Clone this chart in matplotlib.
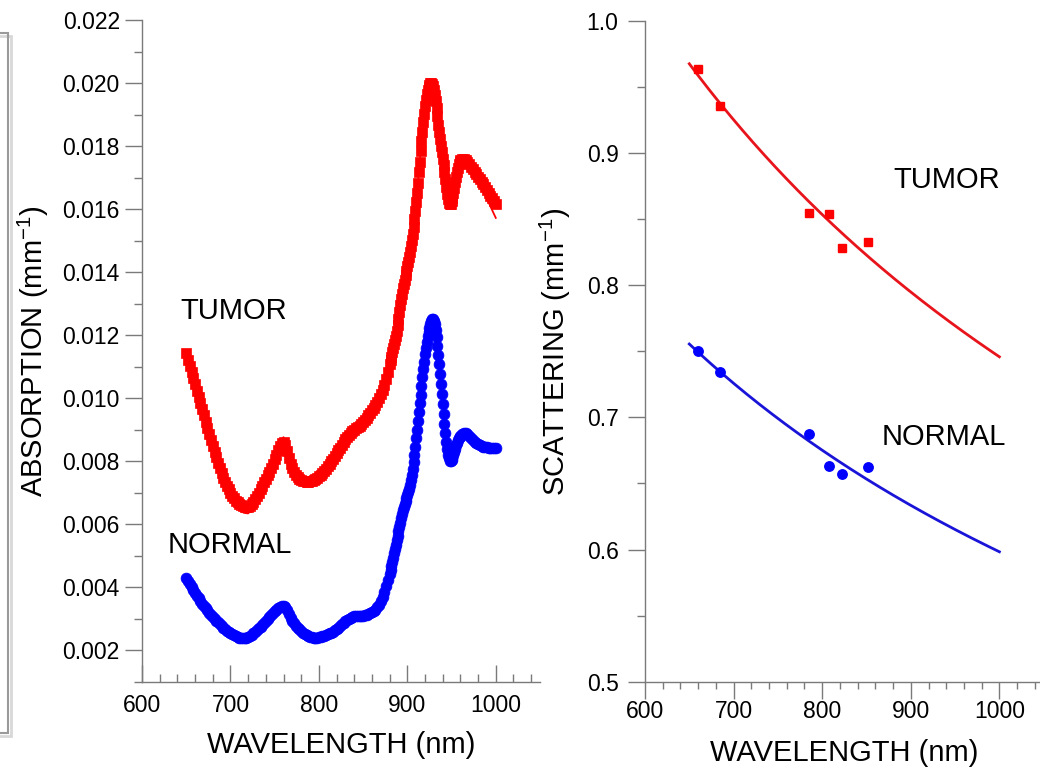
import numpy as np
import matplotlib
matplotlib.use("Agg")
import matplotlib.pyplot as plt
from matplotlib.ticker import MultipleLocator, FormatStrFormatter
from matplotlib.patches import Rectangle

plt.rcParams['font.family'] = ['Liberation Sans', 'DejaVu Sans']
plt.rcParams['mathtext.fontset'] = 'custom'
plt.rcParams['mathtext.rm'] = 'Liberation Sans'
plt.rcParams['mathtext.it'] = 'Liberation Sans:italic'

# ---------------- data: absorption spectra (values in 1e-3 mm^-1) ----------------
ABS_UNIT = 1e-3
wl_abs = np.concatenate([np.arange(650, 881, 2), np.arange(881, 961, 1), np.arange(962, 1001, 2)])

tumor_abs = [
    11.42, 11.22, 11.03, 10.83, 10.63, 10.44, 10.24, 10.04, 9.84, 9.64,
    9.45, 9.25, 9.05, 8.85, 8.66, 8.48, 8.30, 8.12, 7.95, 7.79,
    7.63, 7.48, 7.35, 7.22, 7.10, 6.99, 6.90, 6.82, 6.75, 6.69,
    6.64, 6.60, 6.57, 6.55, 6.55, 6.56, 6.59, 6.64, 6.71, 6.80,
    6.90, 7.00, 7.11, 7.22, 7.33, 7.44, 7.55, 7.66, 7.78, 7.92,
    8.06, 8.21, 8.36, 8.49, 8.58, 8.60, 8.50, 8.32, 8.11, 7.92,
    7.77, 7.65, 7.56, 7.49, 7.44, 7.40, 7.38, 7.36, 7.35, 7.35,
    7.36, 7.38, 7.41, 7.44, 7.48, 7.52, 7.57, 7.63, 7.69, 7.76,
    7.84, 7.92, 8.00, 8.08, 8.16, 8.25, 8.34, 8.43, 8.52, 8.61,
    8.69, 8.77, 8.84, 8.90, 8.95, 9.00, 9.04, 9.08, 9.12, 9.17,
    9.23, 9.30, 9.38, 9.46, 9.54, 9.62, 9.70, 9.79, 9.89, 10.00,
    10.12, 10.26, 10.42, 10.60, 10.82, 11.08,
    11.20, 11.32, 11.45, 11.58, 11.71, 11.84, 11.98, 12.14, 12.32, 12.52,
    12.74, 12.96, 13.15, 13.32, 13.48, 13.62, 13.76, 13.90, 14.04, 14.18,
    14.32, 14.48, 14.65, 14.83, 15.02, 15.22, 15.44, 15.68, 15.94, 16.22,
    16.52, 16.84, 17.17, 17.50, 17.83, 18.15, 18.46, 18.75, 19.02, 19.26,
    19.47, 19.64, 19.78, 19.88, 19.95, 19.99, 20.00, 19.97, 19.90, 19.78,
    19.62, 19.43, 19.21, 18.95, 18.68, 18.44, 18.22, 18.01, 17.80, 17.60,
    17.39, 17.17, 16.94, 16.71, 16.49, 16.31, 16.20, 16.16, 16.17, 16.24,
    16.36, 16.51, 16.68, 16.86, 17.03, 17.18, 17.31, 17.42, 17.50, 17.55,
    17.58, 17.60, 17.57, 17.50, 17.42, 17.34, 17.26, 17.18, 17.10, 17.02,
    16.94, 16.86, 16.78, 16.70, 16.61, 16.52, 16.43, 16.34, 16.25, 16.17,
]

normal_abs = [
    4.28, 4.18, 4.09, 4.00, 3.91, 3.82, 3.73, 3.65, 3.56, 3.48,
    3.41, 3.33, 3.26, 3.19, 3.12, 3.06, 3.00, 2.94, 2.88, 2.82,
    2.77, 2.72, 2.67, 2.62, 2.58, 2.54, 2.50, 2.47, 2.44, 2.42,
    2.40, 2.39, 2.38, 2.38, 2.39, 2.41, 2.44, 2.48, 2.53, 2.58,
    2.63, 2.69, 2.75, 2.81, 2.87, 2.93, 2.99, 3.05, 3.11, 3.17,
    3.23, 3.29, 3.34, 3.38, 3.40, 3.40, 3.36, 3.27, 3.15, 3.03,
    2.93, 2.85, 2.78, 2.72, 2.66, 2.61, 2.56, 2.52, 2.48, 2.45,
    2.43, 2.41, 2.40, 2.40, 2.40, 2.41, 2.42, 2.44, 2.46, 2.48,
    2.50, 2.53, 2.56, 2.59, 2.63, 2.67, 2.72, 2.77, 2.82, 2.87,
    2.92, 2.96, 3.00, 3.03, 3.05, 3.07, 3.08, 3.08, 3.08, 3.09,
    3.10, 3.11, 3.13, 3.15, 3.17, 3.20, 3.24, 3.29, 3.36, 3.45,
    3.56, 3.70, 3.86, 4.03, 4.22, 4.42,
    4.54, 4.66, 4.79, 4.93, 5.07, 5.21, 5.35, 5.49, 5.63, 5.77,
    5.91, 6.05, 6.19, 6.32, 6.44, 6.55, 6.65, 6.74, 6.83, 6.92,
    7.02, 7.13, 7.25, 7.39, 7.56, 7.76, 7.98, 8.21, 8.46, 8.72,
    8.99, 9.27, 9.55, 9.83, 10.11, 10.39, 10.66, 10.92, 11.16, 11.39,
    11.60, 11.79, 11.96, 12.11, 12.24, 12.35, 12.44, 12.50, 12.51, 12.46,
    12.34, 12.16, 11.93, 11.66, 11.37, 11.07, 10.76, 10.45, 10.13, 9.81,
    9.49, 9.18, 8.89, 8.62, 8.39, 8.21, 8.09, 8.02, 8.01, 8.04,
    8.11, 8.20, 8.30, 8.40, 8.50, 8.58, 8.66, 8.72, 8.77, 8.81,
    8.86, 8.88, 8.88, 8.85, 8.80, 8.74, 8.68, 8.62, 8.57, 8.53,
    8.50, 8.48, 8.46, 8.45, 8.44, 8.43, 8.43, 8.43, 8.43, 8.43,
]

# model fits of the absorption spectra
wl_fit = np.concatenate([np.arange(650, 881, 5), np.arange(882, 961, 2), np.arange(965, 1001, 5)])

tumor_fit = [
    11.42, 10.93, 10.44, 9.94, 9.45, 8.95, 8.46, 8.00, 7.58, 7.20,
    6.90, 6.66, 6.48, 6.36, 6.34, 6.48, 6.76, 7.10, 7.45, 7.80,
    8.15, 8.55, 8.76, 8.28, 7.80, 7.52, 7.38, 7.33, 7.34, 7.42,
    7.52, 7.66, 7.84, 8.04, 8.25, 8.47, 8.69, 8.87, 9.00, 9.10,
    9.22, 9.42, 9.62, 9.84, 10.12, 10.50, 11.08,
    11.32, 11.58, 11.84, 12.14, 12.52, 12.96, 13.32, 13.62, 13.90, 14.18,
    14.48, 14.83, 15.22, 15.68, 16.22, 16.84, 17.50, 18.15, 18.75, 19.26,
    19.64, 19.88, 19.99, 19.97, 19.78, 19.43, 18.95, 18.44, 18.01, 17.60,
    17.17, 16.71, 16.31, 16.16, 16.24, 16.51, 16.86, 17.18, 17.42, 17.55,
    17.55, 17.38, 17.15, 16.90, 16.62, 16.33, 16.02, 15.72,
]

normal_fit = [
    4.28, 4.05, 3.82, 3.60, 3.41, 3.22, 3.06, 2.91, 2.77, 2.65,
    2.54, 2.46, 2.40, 2.38, 2.41, 2.50, 2.63, 2.78, 2.93, 3.08,
    3.23, 3.36, 3.40, 3.21, 2.93, 2.75, 2.61, 2.50, 2.43, 2.40,
    2.41, 2.45, 2.50, 2.57, 2.67, 2.79, 2.92, 3.02, 3.07, 3.08,
    3.10, 3.14, 3.20, 3.32, 3.56, 3.94, 4.42,
    4.66, 4.93, 5.21, 5.49, 5.77, 6.05, 6.32, 6.55, 6.74, 6.92,
    7.13, 7.39, 7.76, 8.21, 8.72, 9.27, 9.83, 10.39, 10.92, 11.39,
    11.79, 12.11, 12.35, 12.50, 12.46, 12.16, 11.66, 11.07, 10.45, 9.81,
    9.18, 8.62, 8.21, 8.02, 8.04, 8.20, 8.40, 8.58, 8.72, 8.81,
    8.88, 8.80, 8.65, 8.53, 8.47, 8.44, 8.43, 8.43,
]

# ---------------- data: reduced scattering ----------------
wl_scat = [660, 685, 785, 808, 822, 852]
tumor_scat = [0.964, 0.9355, 0.855, 0.854, 0.828, 0.833]
normal_scat = [0.7506, 0.7345, 0.6875, 0.6632, 0.6572, 0.6625]
fit_range = [650, 1000]

xticks = [600, 700, 800, 900, 1000]
abs_ticks = [0.002, 0.004, 0.006, 0.008, 0.010, 0.012, 0.014, 0.016, 0.018, 0.020, 0.022]
scat_ticks = [0.5, 0.6, 0.7, 0.8, 0.9, 1.0]

RED = '#ff0000'
BLUE = '#0000ff'
RED_LINE = '#e8141c'
BLUE_LINE = '#1a14d8'
SPINE = '#7a7a7a'
TICK_FS = 16.5
LAB_FS = 21

fig = plt.figure(figsize=(10.4, 7.75), dpi=100)
W, H = 1040.0, 775.0

def px_axes(x0, x1, ytop, ybot):
    return fig.add_axes([x0 / W, 1 - ybot / H, (x1 - x0) / W, (ybot - ytop) / H])

# left decoration: edge of a neighbouring frame
fig.add_artist(Rectangle((-20 / W, 1 - 733 / H), 28 / W, 700 / H, transform=fig.transFigure,
                         fill=False, edgecolor='#9a9a9a', lw=1.5))
fig.add_artist(Rectangle((-20 / W, 1 - 736 / H), 31 / W, 700 / H, transform=fig.transFigure,
                         fill=False, edgecolor='#d8d8d8', lw=2.0, zorder=-1))

# ---------------- left panel ----------------
ax1 = px_axes(142, 540, 20, 681.7)
ta = np.array(tumor_abs) * ABS_UNIT
na = np.array(normal_abs) * ABS_UNIT
ax1.plot(wl_abs, ta, ls='none', marker='s', ms=7.0, mfc=RED, mec=RED, mew=0.5, zorder=3)
ax1.plot(wl_fit, np.array(tumor_fit) * ABS_UNIT, color=RED, lw=1.3, zorder=4)
ax1.plot(wl_abs, na, ls='none', marker='o', ms=7.8, mfc=BLUE, mec=BLUE, mew=0.5, zorder=3)
ax1.plot(wl_fit, np.array(normal_fit) * ABS_UNIT, color=BLUE, lw=1.3, zorder=4)

ax1.set_xlim(600, 1050)
ax1.set_ylim(0.001, 0.022)
ax1.set_xticks(xticks)
ax1.xaxis.set_minor_locator(MultipleLocator(20))
ax1.set_yticks(abs_ticks)
ax1.yaxis.set_minor_locator(MultipleLocator(0.001))
ax1.yaxis.set_major_formatter(FormatStrFormatter('%.3f'))
ax1.tick_params(axis='x', which='major', direction='in', length=12, width=1, color=SPINE,
                labelsize=TICK_FS, pad=9)
ax1.tick_params(axis='x', which='minor', direction='in', length=6, width=1, color=SPINE)
ax1.tick_params(axis='y', which='major', direction='out', length=12, width=1, color=SPINE,
                labelsize=TICK_FS, pad=4)
ax1.tick_params(axis='y', which='minor', direction='out', length=6, width=1, color=SPINE)
ax1.set_xlabel('WAVELENGTH (nm)', fontsize=LAB_FS, labelpad=10)
ax1.set_ylabel('ABSORPTION (mm$^{-1}$)', fontsize=LAB_FS, labelpad=8)
ax1.text(643, 0.01275, 'TUMOR', fontsize=LAB_FS, ha='left', va='center')
ax1.text(629, 0.00534, 'NORMAL', fontsize=LAB_FS, ha='left', va='center')

# ---------------- right panel ----------------
ax2 = px_axes(645, 1043.7, 21, 681.7)
lw_s = np.log(np.array(wl_scat, dtype=float))
xf = np.linspace(fit_range[0], fit_range[1], 200)
for vals, col, lcol, mk, ms in [(tumor_scat, RED, RED_LINE, 's', 6.3),
                                (normal_scat, BLUE, BLUE_LINE, 'o', 6.8)]:
    b, a = np.polyfit(lw_s, np.log(vals), 1)
    ax2.plot(xf, np.exp(a + b * np.log(xf)), color=lcol, lw=2.0, zorder=2)
    ax2.plot(wl_scat, vals, ls='none', marker=mk, ms=ms, mfc=col, mec=col, zorder=3)

ax2.set_xlim(600, 1050)
ax2.set_ylim(0.5, 1.0)
ax2.set_xticks(xticks)
ax2.xaxis.set_minor_locator(MultipleLocator(20))
ax2.set_yticks(scat_ticks)
ax2.yaxis.set_minor_locator(MultipleLocator(0.05))
ax2.yaxis.set_major_formatter(FormatStrFormatter('%.1f'))
ax2.tick_params(axis='x', which='major', direction='out', length=12, width=1, color=SPINE,
                labelsize=TICK_FS, pad=1)
ax2.tick_params(axis='x', which='minor', direction='out', length=5, width=1, color=SPINE)
ax2.tick_params(axis='y', which='major', direction='out', length=12, width=1, color=SPINE,
                labelsize=TICK_FS, pad=7)
ax2.tick_params(axis='y', which='minor', direction='out', length=6, width=1, color=SPINE)
ax2.set_xlabel('WAVELENGTH (nm)', fontsize=LAB_FS, labelpad=12)
ax2.set_ylabel('SCATTERING (mm$^{-1}$)', fontsize=LAB_FS, labelpad=10)
ax2.text(880, 0.8796, 'TUMOR', fontsize=LAB_FS, ha='left', va='center')
ax2.text(867.5, 0.685, 'NORMAL', fontsize=LAB_FS, ha='left', va='center')

for ax in (ax1, ax2):
    ax.set_facecolor('none')
    for s in ('top', 'right'):
        ax.spines[s].set_visible(False)
    for s in ('left', 'bottom'):
        ax.spines[s].set_color(SPINE)
        ax.spines[s].set_linewidth(1.0)

fig.savefig('out.png', dpi=100)
